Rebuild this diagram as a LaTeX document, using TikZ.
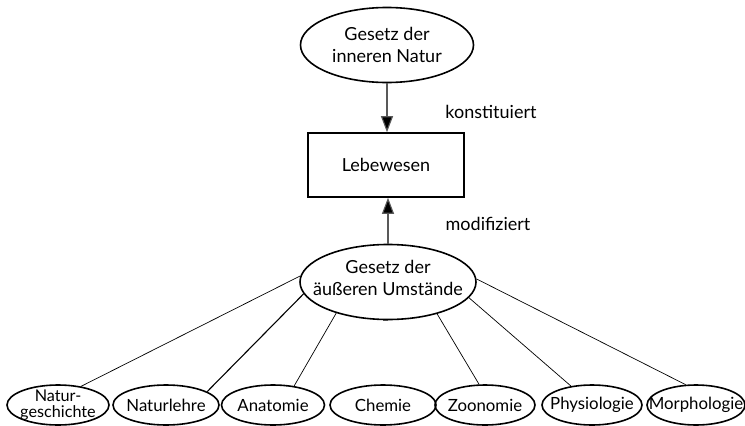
\documentclass[tikz,border=0pt]{standalone}
\usepackage{fontspec}
\setmainfont{Lato}
\usetikzlibrary{shapes.geometric,arrows.meta}
\begin{document}
\begin{tikzpicture}[x=1pt,y=-1pt,
  ell/.style={ellipse,draw,line width=1.6pt,inner sep=0pt},
  txt/.style={inner sep=0pt,align=center,font=\fontsize{18}{22}\selectfont},
  stxt/.style={inner sep=0pt,align=center,font=\fontsize{16.8}{20}\selectfont},
  btxt/.style={inner sep=0pt,align=center,font=\fontsize{16.2}{15.5}\selectfont},
  boxn/.style={rectangle,draw,line width=1.6pt,minimum width=156pt,minimum height=64pt,font=\fontsize{18}{22}\selectfont},
  arr/.style={draw=black!65,line width=1.1pt,-{Triangle[length=16pt,width=12pt,fill=black]}},
  conn/.style={draw=black,line width=0.7pt}]
\useasboundingbox (0,0) rectangle (745,426);
% top
\node[ell,minimum width=173pt,minimum height=75pt] (inner) at (387,45) {};
\node[txt] (innert) at (387,45) {Gesetz der\\inneren Natur};
\node[boxn] (leb) at (386,165) {Lebewesen};
\node[ell,minimum width=176pt,minimum height=75pt] (aus) at (388,282) {};
\node[txt] (aust) at (388,278) {Gesetz der\\äußeren Umstände};
\node[txt] (k) at (491,112) {konstituiert};
\node[txt] (m) at (488,224) {modifiziert};
\draw[arr] (inner.south) -- (inner.south |- leb.north);
\draw[arr] (aus.north) -- (aus.north |- leb.south);
% bottom
\foreach \n/\x/\w in {b1/58/102, b2/166/106, b3/273/103, b4/383/106, b5/485/100, b6/592/100, b7/696/98}
  \node[ell,minimum width=\w pt,minimum height=40pt] (\n) at (\x,405) {};
\node[btxt] (b1t) at (b1) {Natur-\\geschichte};
\node[stxt] (b2t) at (b2) {Naturlehre};
\node[stxt] (b3t) at (b3) {Anatomie};
\node[stxt] (b4t) at (b4) {Chemie};
\node[stxt] (b5t) at (b5) {Zoonomie};
\node[stxt] (b6t) at (b6) {Physiologie};
\node[stxt] (b7t) at (b7) {Morphologie};
\draw[conn] (aus.176) -- (b1.39);
\draw[conn,line width=1.1pt] (aus.188) -- (b2.18);
\draw[conn] (aus.211) -- (b3.42);
\draw[conn,draw=black!70,line width=1pt] (aus.south) -- (aus.south -| b4.north);
\draw[conn] (aus.327) -- (b5.106);
\draw[conn] (aus.349) -- (b6.138);
\draw[conn] (aus.2) -- (b7.117);
\end{tikzpicture}
\end{document}
